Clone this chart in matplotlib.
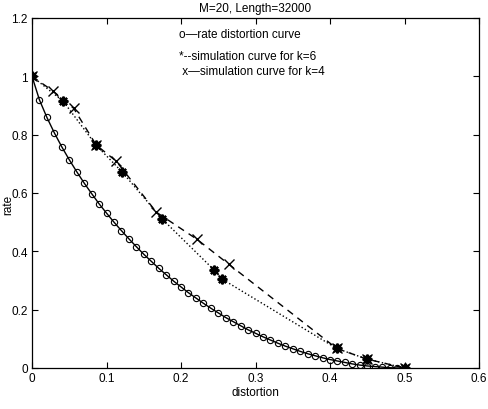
import numpy as np
import matplotlib
matplotlib.use('Agg')
import matplotlib.pyplot as plt

plt.rcParams['font.family'] = ['Liberation Sans', 'DejaVu Sans']

rd_d = [0.00, 0.01, 0.02, 0.03, 0.04, 0.05, 0.06, 0.07, 0.08, 0.09,
        0.10, 0.11, 0.12, 0.13, 0.14, 0.15, 0.16, 0.17, 0.18, 0.19,
        0.20, 0.21, 0.22, 0.23, 0.24, 0.25, 0.26, 0.27, 0.28, 0.29,
        0.30, 0.31, 0.32, 0.33, 0.34, 0.35, 0.36, 0.37, 0.38, 0.39,
        0.40, 0.41, 0.42, 0.43, 0.44, 0.45, 0.46, 0.47, 0.48, 0.49, 0.50]
rd_r = [1.000, 0.919, 0.859, 0.806, 0.758, 0.714, 0.673, 0.634, 0.598, 0.563,
        0.531, 0.500, 0.471, 0.443, 0.416, 0.390, 0.366, 0.342, 0.320, 0.298,
        0.278, 0.258, 0.240, 0.222, 0.205, 0.189, 0.173, 0.159, 0.145, 0.131,
        0.119, 0.107, 0.096, 0.085, 0.075, 0.066, 0.057, 0.049, 0.042, 0.035,
        0.029, 0.024, 0.019, 0.014, 0.010, 0.007, 0.005, 0.003, 0.001, 0.000, 0.000]

# simulation, k=4 (x markers, dashed)
k4_d = [0.0, 0.028, 0.056, 0.086, 0.113, 0.167, 0.221, 0.264, 0.409, 0.449, 0.500]
k4_r = [1.0, 0.950, 0.890, 0.765, 0.709, 0.534, 0.442, 0.356, 0.067, 0.031, 0.000]

# simulation, k=6 (* markers, dotted)
k6_d = [0.0, 0.042, 0.086, 0.121, 0.175, 0.244, 0.255, 0.409, 0.449, 0.500]
k6_r = [1.0, 0.914, 0.764, 0.672, 0.510, 0.337, 0.305, 0.067, 0.031, 0.000]

fig = plt.figure(figsize=(4.88, 4.10), dpi=100)
ax = fig.add_axes([0.0656, 0.1, 0.916, 0.8537])

ax.plot(rd_d, rd_r, '-', color='k', lw=1.0, marker='o', ms=4.5,
        mfc='none', mec='k', mew=0.8)
ax.plot(k4_d, k4_r, '--', color='k', lw=1.0, marker='x', ms=7, mew=1.0,
        dashes=(5, 4))
ax.plot(k6_d, k6_r, ':', color='k', lw=1.0, marker=(8, 2, 0), ms=7, mew=1.6)

ax.set_xlim(0, 0.6)
ax.set_ylim(0, 1.2)
ax.set_xticks([0, 0.1, 0.2, 0.3, 0.4, 0.5, 0.6])
ax.set_xticklabels(['0', '0.1', '0.2', '0.3', '0.4', '0.5', '0.6'])
ax.set_yticks([0, 0.2, 0.4, 0.6, 0.8, 1.0, 1.2])
ax.set_yticklabels(['0', '0.2', '0.4', '0.6', '0.8', '1', '1.2'])
ax.tick_params(direction='in', top=True, right=True, length=4, width=0.8,
               labelsize=8.5, pad=3)
for s in ax.spines.values():
    s.set_linewidth(0.9)

ax.set_xlabel('distortion', fontsize=8.5, labelpad=1)
fig.text(8 / 488, 0.5, 'rate', rotation=90, fontsize=8.5,
         ha='center', va='center')
ax.set_title('M=20, Length=32000', fontsize=8.5, pad=5)

ax.text(0.329, 0.954, 'o\u2014rate distortion curve', transform=ax.transAxes,
        fontsize=8.5, va='center')
ax.text(0.329, 0.891, '*--simulation curve for k=6', transform=ax.transAxes,
        fontsize=8.5, va='center')
ax.text(0.329, 0.849, ' x\u2014simulation curve for k=4', transform=ax.transAxes,
        fontsize=8.5, va='center')

fig.savefig('out.png', dpi=100)
